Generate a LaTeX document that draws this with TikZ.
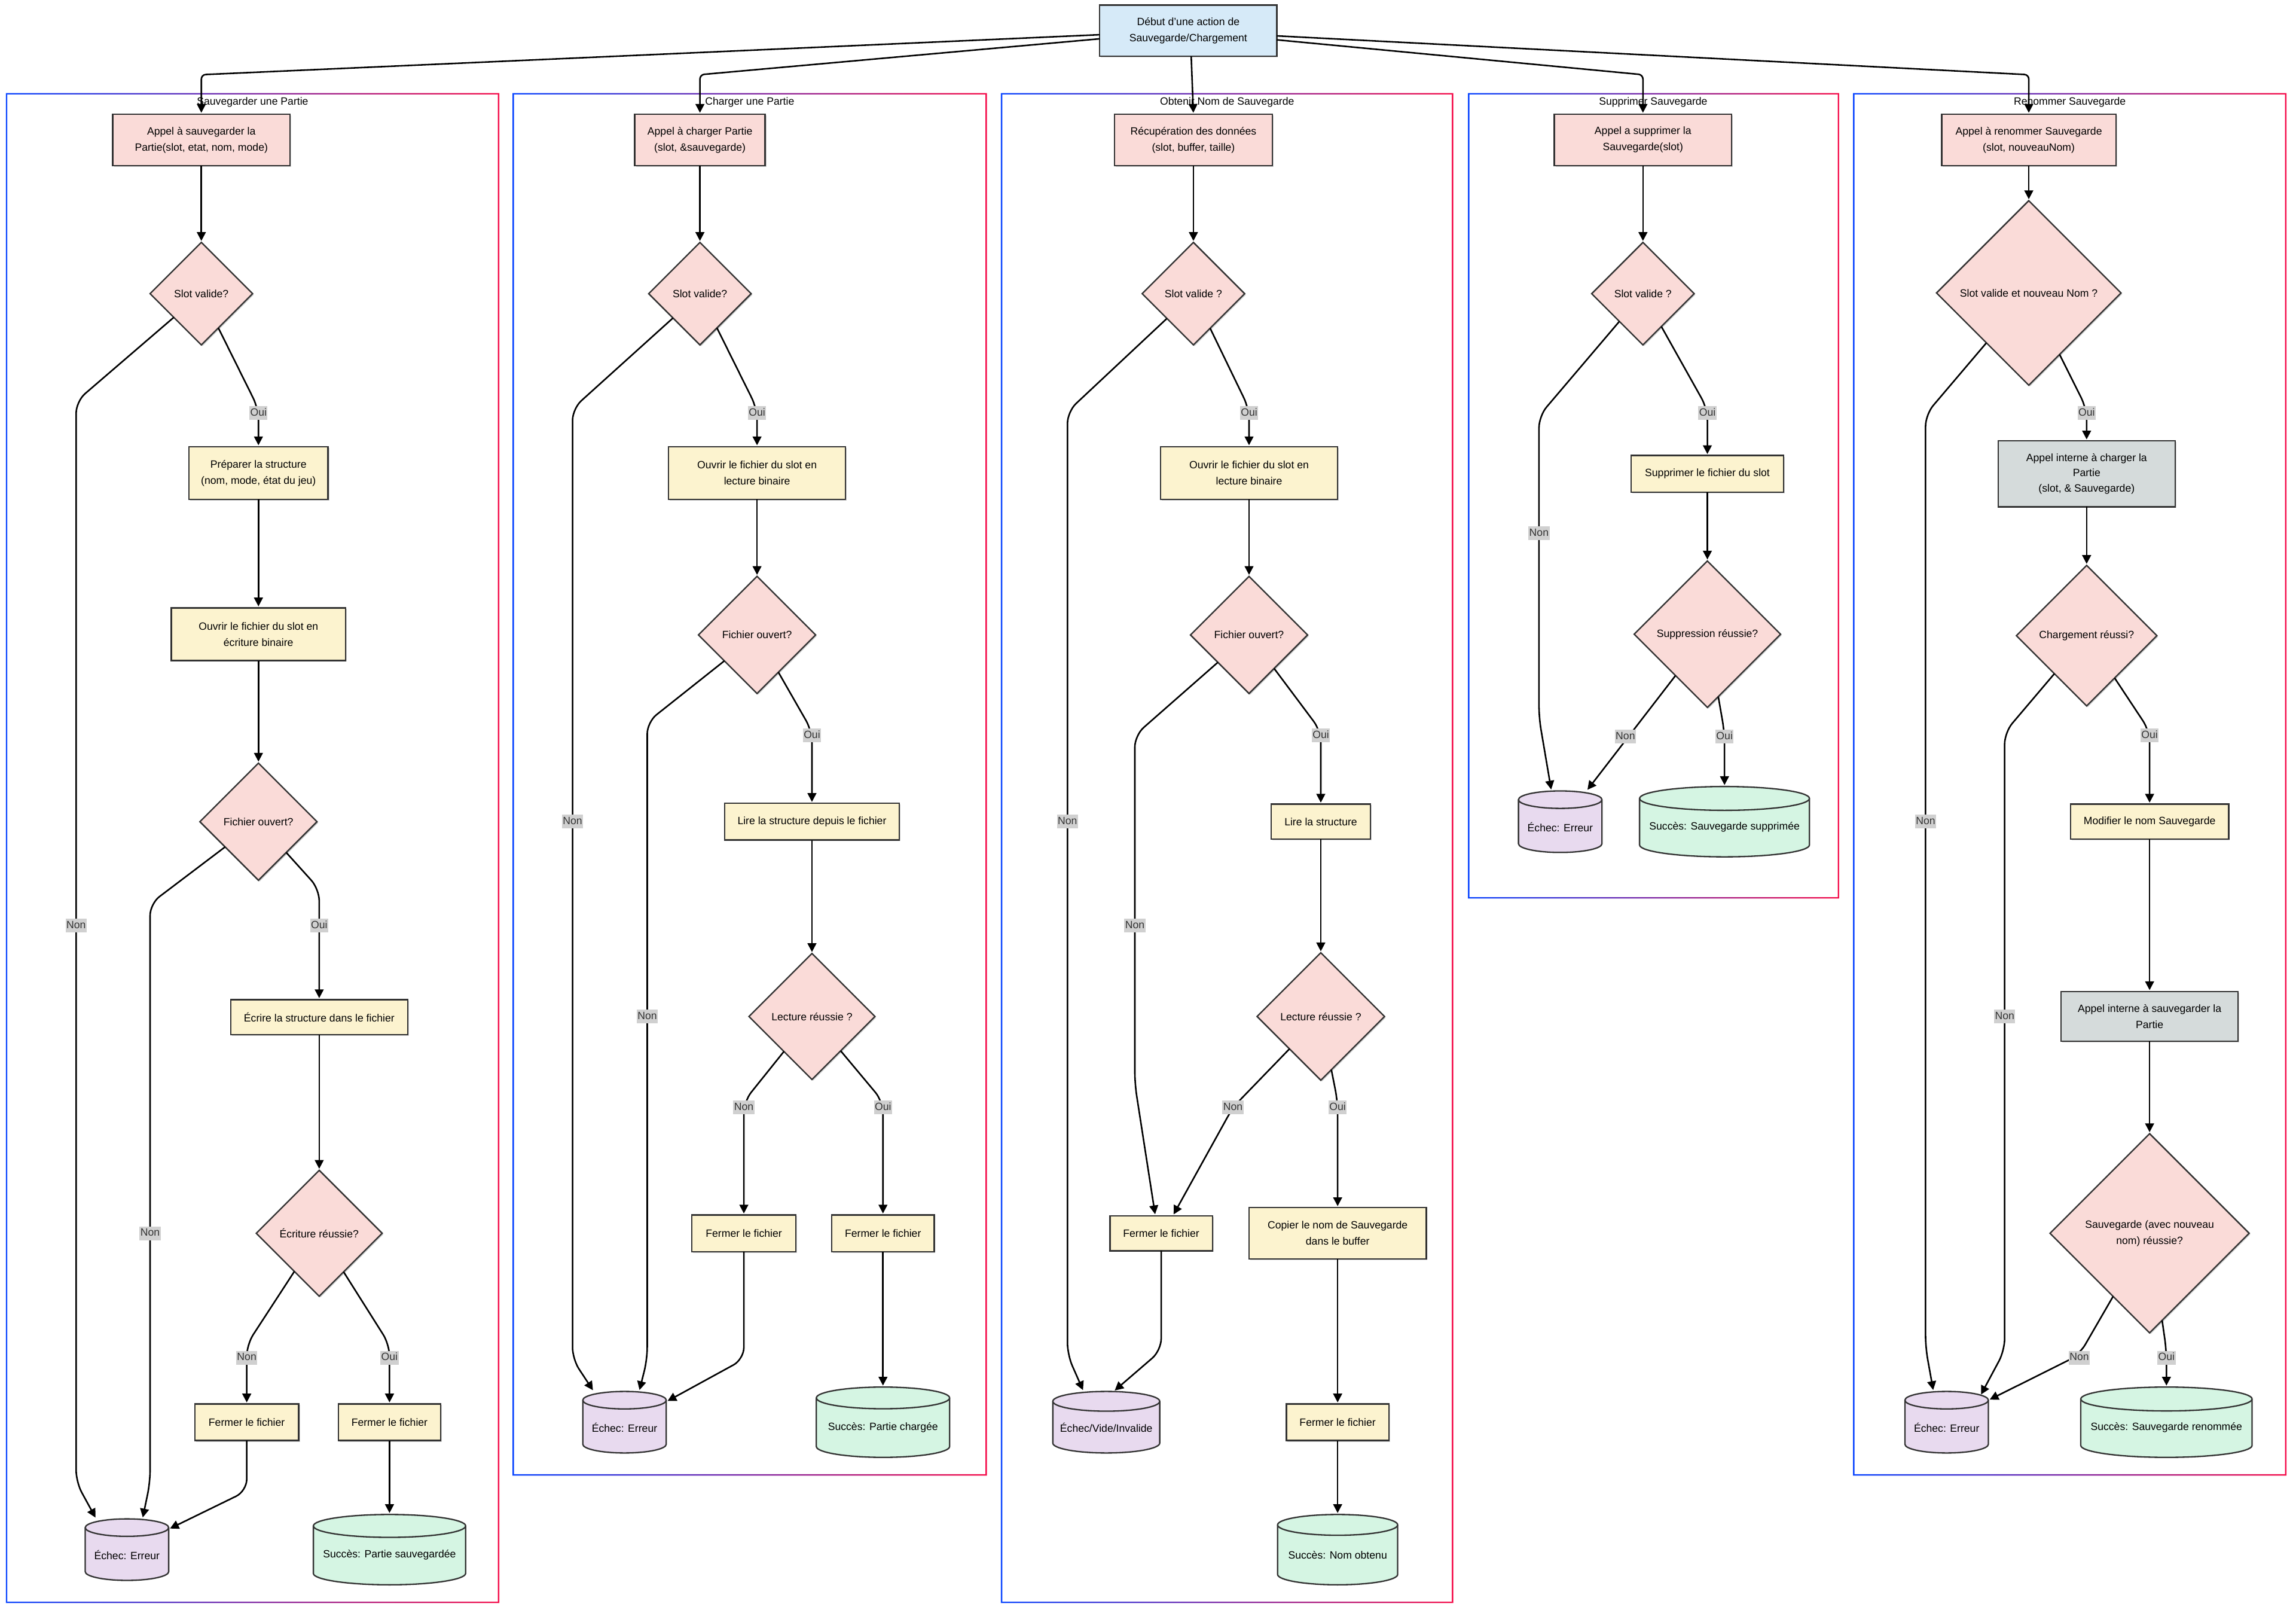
\documentclass[tikz,border=0pt]{standalone}
\usepackage{fontspec}
\setmainfont{Liberation Sans}
\usetikzlibrary{shapes.geometric,arrows.meta,shadows}
\definecolor{topfill}{HTML}{D6EAF8}
\definecolor{pinkfill}{HTML}{FADBD8}
\definecolor{yelfill}{HTML}{FCF3CF}
\definecolor{grayfill}{HTML}{D5DBDB}
\definecolor{lavfill}{HTML}{E8DAEF}
\definecolor{mintfill}{HTML}{D5F5E3}
\definecolor{bordc}{HTML}{333333}
\definecolor{lblfill}{HTML}{D0D0D0}
\definecolor{lbltext}{HTML}{333333}
\definecolor{gblue}{HTML}{0A45FF}
\definecolor{gred}{HTML}{F50F4B}
\tikzset{
 nbase/.style={font=\fontsize{7.2}{11}\selectfont, align=center, inner sep=0pt, outer sep=0pt, text=black},
 sz/.style 2 args={minimum width=#1pt, minimum height=#2pt},
 rbox/.style={nbase, rectangle, draw=bordc, line width=0.95pt, drop shadow={shadow xshift=0.8pt, shadow yshift=-0.8pt, opacity=0.18, fill=black}},
 proc/.style={rbox, fill=yelfill},
 call/.style={rbox, fill=pinkfill},
 dec/.style={nbase, diamond, aspect=1, draw=bordc, line width=0.95pt, fill=pinkfill, drop shadow={shadow xshift=0.8pt, shadow yshift=-0.8pt, opacity=0.18, fill=black}},
 conn/.style={draw=black, line width=1.05pt, -{Triangle[length=6pt,width=6pt]}, rounded corners=8pt, shorten >=1pt},
 lbl/.style={nbase, fill=lblfill, text=lbltext, inner xsep=0.6pt, inner ysep=1pt, text height=5.6pt, text depth=1.8pt},
 ttl/.style={nbase},
 cylbox/.style={rectangle, inner sep=0pt, outer sep=0pt},
}
\newcommand{\clusterbox}[4]{%
  \shade[left color=gblue, right color=gred, even odd rule] (#1-0.5,#2+0.5) rectangle (#3+0.5,#4-0.5) (#1+0.5,#2-0.5) rectangle (#3-0.5,#4+0.5);%
}
\newcommand{\cylnode}[7]{%
  \pgfmathsetmacro{\cylry}{(#4/2)/(2.5+#4/25)}%
  \node[cylbox, minimum width=#4pt, minimum height=#5pt] (#1) at (#2,#3) {};%
  \filldraw[fill=#6, draw=bordc, line width=0.95pt] ([yshift=-\cylry pt]#1.north west) -- ([yshift=\cylry pt]#1.south west) arc[start angle=180,end angle=360,x radius={#4pt/2},y radius=\cylry pt] -- ([yshift=-\cylry pt]#1.north east) arc[start angle=0,end angle=180,x radius={#4pt/2},y radius=\cylry pt] -- cycle;%
  \draw[draw=bordc, line width=0.95pt] ([yshift=-\cylry pt]#1.north west) arc[start angle=180,end angle=360,x radius={#4pt/2},y radius=\cylry pt];%
  \node[nbase] (#1t) at ([yshift=-3.5pt]#1.center) {#7};%
}
\begin{document}
\begin{tikzpicture}[x=1pt,y=1pt]
\useasboundingbox (0,0) rectangle (1568,-1101);
% clusters
\clusterbox{4.5}{-64}{340.5}{-1094}
\clusterbox{350.5}{-64}{673.5}{-1007}
\clusterbox{684}{-64}{992}{-1094}
\clusterbox{1003}{-64}{1255.5}{-613}
\clusterbox{1266}{-64}{1561}{-1007}
\node[ttl] (t1) at (172.5,-70) {Sauvegarder une Partie};
\node[ttl] (t2) at (512,-70) {Charger une Partie};
\node[ttl] (t3) at (838,-70) {Obtenir Nom de Sauvegarde};
\node[ttl] (t4) at (1129,-70) {Supprimer Sauvegarde};
\node[ttl] (t5) at (1413.5,-70) {Renommer Sauvegarde};

% start
\node[rbox, fill=topfill, sz={121}{35}] (start) at (811.5,-21) {Début d'une action de\\Sauvegarde/Chargement};

% C1
\node[call, sz={121}{35}] (s1) at (137.5,-95.5) {Appel à sauvegarder la\\Partie(slot, etat, nom, mode)};
\node[dec, minimum size=70pt] (s2) at (137.5,-200.5) {Slot valide?};
\node[proc, sz={95}{36}] (s3) at (176.5,-323) {Préparer la structure\\(nom, mode, état du jeu)};
\node[proc, sz={119}{36}] (s4) at (176.5,-433) {Ouvrir le fichier du slot en\\écriture binaire};
\node[dec, minimum size=80pt] (s5) at (176.5,-561) {Fichier ouvert?};
\node[proc, sz={121}{24}] (s6) at (218,-694.5) {Écrire la structure dans le fichier};
\node[dec, minimum size=86pt] (s7) at (218,-842) {Écriture réussie?};
\node[proc, sz={71}{25}] (s8) at (168.5,-971) {Fermer le fichier};
\node[proc, sz={70}{25}] (s9) at (266,-971) {Fermer le fichier};
\cylnode{s10}{86.7}{-1058}{57}{42}{lavfill}{Échec: Erreur}
\cylnode{s11}{266}{-1058}{104}{48}{mintfill}{Succès: Partie sauvegardée}

% C2
\node[call, sz={89}{35}] (c1) at (478,-95.5) {Appel à charger Partie\\(slot, \&sauvegarde)};
\node[dec, minimum size=70pt] (c2) at (478,-200.5) {Slot valide?};
\node[proc, sz={121}{36}] (c3) at (517,-323) {Ouvrir le fichier du slot en\\lecture binaire};
\node[dec, minimum size=80pt] (c4) at (517,-433.5) {Fichier ouvert?};
\node[proc, sz={119}{25}] (c5) at (554.5,-561) {Lire la structure depuis le fichier};
\node[dec, minimum size=86pt] (c6) at (554.5,-694) {Lecture réussie ?};
\node[proc, sz={71}{25}] (c7) at (508,-842) {Fermer le fichier};
\node[proc, sz={70}{25}] (c8) at (603,-842) {Fermer le fichier};
\cylnode{c9}{426.5}{-971}{57}{42}{lavfill}{Échec: Erreur}
\cylnode{c10}{603}{-971}{91}{48}{mintfill}{Succès: Partie chargée}

% C3
\node[call, sz={108}{35}] (o1) at (815,-95.5) {Récupération des données\\(slot, buffer, taille)};
\node[dec, minimum size=70pt] (o2) at (815,-200.5) {Slot valide ?};
\node[proc, sz={121}{36}] (o3) at (853,-323) {Ouvrir le fichier du slot en\\lecture binaire};
\node[dec, minimum size=80pt] (o4) at (853,-433.5) {Fichier ouvert?};
\node[proc, sz={68}{24}] (o5) at (902,-561) {Lire la structure};
\node[dec, minimum size=87pt] (o6) at (902,-694) {Lecture réussie ?};
\node[proc, sz={70}{24}] (o7) at (793,-842) {Fermer le fichier};
\node[proc, sz={121}{35}] (o8) at (913.5,-842) {Copier le nom de Sauvegarde\\dans le buffer};
\node[proc, sz={70}{25}] (o9) at (913.5,-971) {Fermer le fichier};
\cylnode{o10}{755.5}{-971}{73}{42}{lavfill}{Échec/Vide/Invalide}
\cylnode{o11}{913.5}{-1058}{82}{48}{mintfill}{Succès: Nom obtenu}

% C4
\node[call, sz={121}{35}] (d1) at (1122,-95.5) {Appel a supprimer la\\Sauvegarde(slot)};
\node[dec, minimum size=70pt] (d2) at (1122,-200.5) {Slot valide ?};
\node[proc, sz={104}{25}] (d3) at (1166,-323.5) {Supprimer le fichier du slot};
\node[dec, minimum size=100pt] (d4) at (1166,-433) {Suppression réussie?};
\cylnode{d5}{1065.5}{-561}{57}{42}{lavfill}{Échec: Erreur}
\cylnode{d6}{1177.7}{-561}{116}{48}{mintfill}{Succès: Sauvegarde supprimée}

% C5
\node[call, sz={119}{35}] (r1) at (1385.5,-95.5) {Appel à renommer Sauvegarde\\(slot, nouveauNom)};
\node[dec, minimum size=126pt] (r2) at (1385.5,-200) {Slot valide et nouveau Nom ?};
\node[rbox, fill=grayfill, sz={121}{45}, font=\fontsize{7.2}{10.4}\selectfont] (r3) at (1425,-323.5) {Appel interne à charger la\\Partie\\(slot, \& Sauvegarde)};
\node[dec, minimum size=96pt] (r4) at (1425,-434) {Chargement réussi?};
\node[proc, sz={108}{24}] (r5) at (1468,-561) {Modifier le nom Sauvegarde};
\node[rbox, fill=grayfill, sz={121}{34}] (r6) at (1468,-694) {Appel interne à sauvegarder la\\Partie};
\node[dec, minimum size=136pt] (r7) at (1468,-842) {Sauvegarde (avec nouveau\\nom) réussie?};
\cylnode{r8}{1329.4}{-971}{57}{42}{lavfill}{Échec: Erreur}
\cylnode{r9}{1479.5}{-971}{117}{48}{mintfill}{Succès: Sauvegarde renommée}

% top edges
\draw[conn, rounded corners=3pt] ([yshift=-2.7pt]start.west) -- (137.5,-51) -- (s1.north);
\draw[conn, rounded corners=3pt] ([yshift=-5.5pt]start.west) -- (478,-51) -- (c1.north);
\draw[conn] ([xshift=2pt]start.south) -- (o1.north);
\draw[conn, rounded corners=3pt] ([yshift=-6.2pt]start.east) -- (1122,-51) -- (d1.north);
\draw[conn, rounded corners=3pt] ([yshift=-3.5pt]start.east) -- (1385.5,-51) -- (r1.north);

% C1 edges
\draw[conn] (s1) -- (s2);
\draw[conn] (s2) -- (176.5,-279) -- (s3);
\draw[conn] (s2) -- (52,-274) -- (52,-1012) -- ([xshift=-21pt]s10.north);
\draw[conn] (s3) -- (s4);
\draw[conn] (s4) -- (s5);
\draw[conn] (s5) -- (218,-607) -- (s6);
\draw[conn] (s5) -- (102.5,-617) -- (102.5,-1012) -- ([xshift=10.6pt]s10.north);
\draw[conn] (s6) -- (s7);
\draw[conn] (s7) -- (168.5,-918) -- (s8);
\draw[conn] (s7) -- (266,-918) -- (s9);
\draw[conn] (s8) -- (168.5,-1018) -- ([yshift=-7pt]s10.north east);
\draw[conn] (s9) -- (s11);

% C2 edges
\draw[conn] (c1) -- (c2);
\draw[conn] (c2) -- (517,-279) -- (c3);
\draw[conn] (c2) -- (391,-279) -- (391,-928) -- ([xshift=-21pt]c9.north);
\draw[conn] (c3) -- (c4);
\draw[conn] (c4) -- (554.5,-499) -- (c5);
\draw[conn] (c4) -- (442,-493) -- (442,-928) -- ([xshift=10pt]c9.north);
\draw[conn] (c5) -- (c6);
\draw[conn] (c6) -- (508,-752) -- (c7);
\draw[conn] (c6) -- (603,-752) -- (c8);
\draw[conn] (c7) -- (508,-928) -- ([yshift=-7pt]c9.north east);
\draw[conn] (c8) -- (c10);

% C3 edges
\draw[conn] (o1) -- (o2);
\draw[conn] (o2) -- (853,-279) -- (o3);
\draw[conn] (o2) -- (729,-281) -- (729,-925) -- ([xshift=-15.5pt]o10.north);
\draw[conn] (o3) -- (o4);
\draw[conn] (o4) -- (902,-499) -- (o5);
\draw[conn] (o4) -- (775,-502) -- (775,-740) -- ([xshift=-4pt]o7.north);
\draw[conn] (o5) -- (o6);
\draw[conn] (o6) -- (842,-756) -- ([xshift=8pt]o7.north);
\draw[conn] (o6) -- (913.5,-752) -- (o8);
\draw[conn] (o7) -- (793,-922) -- ([xshift=5pt]o10.north);
\draw[conn] (o8) -- (o9);
\draw[conn] (o9) -- (o11);

% C4 edges
\draw[conn] (d1) -- (d2);
\draw[conn] (d2) -- (1166,-279) -- (d3);
\draw[conn] (d2) -- (1051,-284) -- (1051,-490) -- ([xshift=-6pt]d5.north);
\draw[conn] (d3) -- (d4);
\draw[conn] (d4) -- ([xshift=18pt]d5.north);
\draw[conn] (d4) -- (1177.7,-500) -- (d6);

% C5 edges
\draw[conn] (r1) -- (r2);
\draw[conn] (r2) -- (1425,-279) -- (r3);
\draw[conn] (r2) -- (1315,-283) -- (1315,-920) -- ([xshift=-9pt]r8.north);
\draw[conn] (r3) -- (r4);
\draw[conn] (r4) -- (1468,-499) -- (r5);
\draw[conn] (r4) -- (1369,-500) -- (1369,-922) -- ([shift={(23pt,-3pt)}]r8.north);
\draw[conn] (r5) -- (r6);
\draw[conn] (r6) -- (r7);
\draw[conn] (r7) -- (1420,-925) -- ([yshift=-6pt]r8.north east);
\draw[conn] (r7) -- (1479.5,-922) -- (r9);

% labels
\node[lbl] (ls1) at (176.5,-282) {Oui};
\node[lbl] (ls2) at (52,-632) {Non};
\node[lbl] (ls3) at (218,-632) {Oui};
\node[lbl] (ls4) at (102.5,-842) {Non};
\node[lbl] (ls5) at (168.5,-927) {Non};
\node[lbl] (ls6) at (266,-927) {Oui};
\node[lbl] (lc1) at (517,-282) {Oui};
\node[lbl] (lc2) at (391,-561) {Non};
\node[lbl] (lc3) at (554.5,-502) {Oui};
\node[lbl] (lc4) at (442,-694) {Non};
\node[lbl] (lc5) at (508,-756) {Non};
\node[lbl] (lc6) at (603,-756) {Oui};
\node[lbl] (lo1) at (853,-282) {Oui};
\node[lbl] (lo2) at (729,-561) {Non};
\node[lbl] (lo3) at (902,-502) {Oui};
\node[lbl] (lo4) at (775,-632) {Non};
\node[lbl] (lo5) at (842,-756) {Non};
\node[lbl] (lo6) at (913.5,-756) {Oui};
\node[lbl] (ld1) at (1166,-282) {Oui};
\node[lbl] (ld2) at (1051,-364) {Non};
\node[lbl] (ld3) at (1110,-503) {Non};
\node[lbl] (ld4) at (1177.7,-503) {Oui};
\node[lbl] (lr1) at (1425,-282) {Oui};
\node[lbl] (lr2) at (1315,-561) {Non};
\node[lbl] (lr3) at (1468,-502) {Oui};
\node[lbl] (lr4) at (1369,-694) {Non};
\node[lbl] (lr5) at (1420,-927) {Non};
\node[lbl] (lr6) at (1479.5,-927) {Oui};
\end{tikzpicture}
\end{document}
